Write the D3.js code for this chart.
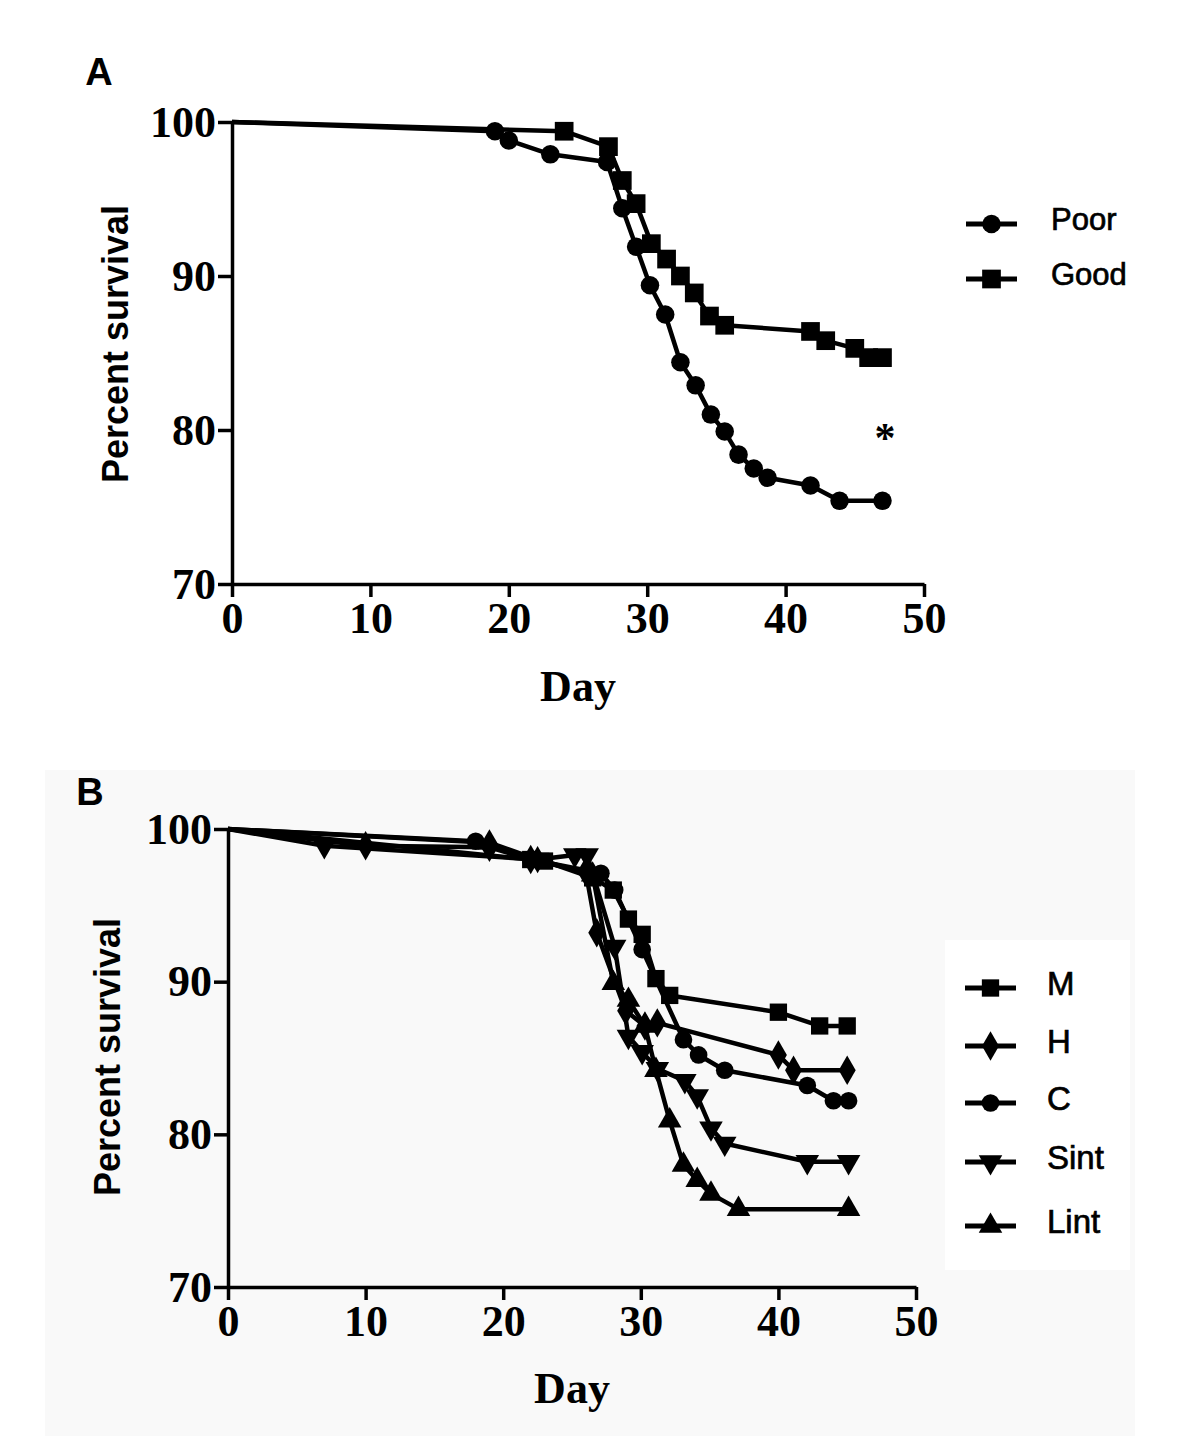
<!DOCTYPE html>
<html>
<head>
<meta charset="utf-8">
<script src="https://cdn.jsdelivr.net/npm/d3@7"></script>
<style>
  body { margin: 0; background: #fff; }
</style>
</head>
<body>
<div id="chart"></div>
<script>

// ---- data ----
var dayTicks = [0, 10, 20, 30, 40, 50];
var survTicks = [70, 80, 90, 100];

// panel A
var poorDays = [0, 19, 20, 23, 27.1, 28.2, 29.2, 30.2, 31.3, 32.4, 33.5, 34.6, 35.6, 36.6, 37.7, 38.7, 41.8, 43.9, 47];
var poorSurv = [100, 99.4, 98.8, 97.9, 97.4, 94.4, 91.9, 89.4, 87.5, 84.4, 82.9, 81.0, 79.9, 78.4, 77.5, 76.9, 76.4, 75.4, 75.4];
var goodDays = [0, 24, 27.2, 28.2, 29.2, 30.3, 31.4, 32.4, 33.4, 34.5, 35.6, 41.8, 42.9, 45, 46, 47];
var goodSurv = [100, 99.4, 98.4, 96.2, 94.7, 92.1, 91.1, 90.0, 88.9, 87.4, 86.8, 86.4, 85.8, 85.3, 84.7, 84.7];

// panel B
var mDays = [0, 22, 23, 26.5, 28, 29.1, 30.1, 31.1, 32.1, 40, 43, 45];
var mSurv = [100, 98.0, 97.9, 96.8, 96.0, 94.1, 93.1, 90.2, 89.1, 88.0, 87.1, 87.1];
var hDays = [0, 10, 19, 22, 26, 26.8, 28.9, 30.3, 31.2, 40, 41.1, 45];
var hSurv = [100, 98.9, 98.8, 98.0, 97.2, 93.2, 88.1, 87.1, 87.3, 85.2, 84.2, 84.2];
var cDays = [0, 18, 22, 27.1, 28.1, 30.1, 33.1, 34.2, 36.1, 42.1, 44, 45.1];
var cSurv = [100, 99.2, 98.0, 97.1, 96.0, 92.1, 86.2, 85.2, 84.2, 83.2, 82.2, 82.2];
var sDays = [0, 7, 22.5, 25.2, 26.1, 28.1, 29.1, 30.1, 31.2, 33.2, 34.1, 35.1, 36.1, 42.1, 45.1];
var sSurv = [100, 98.9, 98.0, 98.3, 98.3, 92.3, 86.4, 85.4, 84.3, 83.5, 82.5, 80.4, 79.4, 78.2, 78.2];
var lDays = [0, 19, 22.5, 26.5, 28, 29.1, 30.3, 31.1, 32.1, 33.1, 34.1, 35.1, 37.1, 45.1];
var lSurv = [100, 99.1, 98.0, 97.0, 89.9, 88.8, 87.1, 84.2, 80.9, 78.0, 77.0, 76.1, 75.1, 75.1];

var groupsA = ["Poor", "Good"];
var groupsB = ["M", "H", "C", "Sint", "Lint"];

// ---- setup ----
const W = 1200, H = 1436;
const serif = "'Liberation Serif', 'Times New Roman', serif";
const sans = "'Liberation Sans', Arial, sans-serif";

const svg = d3.select("#chart")
  .append("svg")
  .attr("width", W)
  .attr("height", H);

// panel B has a very light grey backdrop in the original
svg.append("rect")
  .attr("x", 45).attr("y", 770)
  .attr("width", 1090).attr("height", 666)
  .attr("fill", "#f9f9f9");
svg.append("rect")
  .attr("x", 945).attr("y", 940)
  .attr("width", 185).attr("height", 330)
  .attr("fill", "#ffffff");

const symbols = {
  circle: d3.symbol().type(d3.symbolCircle),
  square: d3.symbol().type(d3.symbolSquare),
  diamond: d3.symbol().type(d3.symbolDiamond),
  triUp: d3.symbol().type(d3.symbolTriangle),
  triDown: d3.symbol().type(d3.symbolTriangle)
};

function markerPath(shape, size) {
  return symbols[shape].size(size)();
}

function drawPanel(cfg) {
  const x = d3.scaleLinear().domain([0, 50]).range(cfg.xRange);
  const y = d3.scaleLinear().domain([70, 100]).range(cfg.yRange);
  const g = svg.append("g");

  // axes
  const xAxis = d3.axisBottom(x).tickValues(dayTicks).tickSize(13).tickSizeOuter(0).tickPadding(5);
  const yAxis = d3.axisLeft(y).tickValues(survTicks).tickSize(14).tickSizeOuter(0).tickPadding(2);

  const xg = g.append("g")
    .attr("transform", `translate(0,${cfg.yRange[0]})`)
    .call(xAxis);
  const yg = g.append("g")
    .attr("transform", `translate(${cfg.xRange[0]},0)`)
    .call(yAxis);

  [xg, yg].forEach(a => {
    a.select(".domain").attr("stroke", "#000").attr("stroke-width", 3.5);
    a.selectAll(".tick line").attr("stroke", "#000").attr("stroke-width", 3.5);
    a.selectAll("text")
      .attr("fill", "#000")
      .attr("font-family", serif)
      .attr("font-weight", "bold")
      .style("font-size", "44px");
  });

  // series
  const line = d3.line().x(d => x(d[0])).y(d => y(d[1]));
  cfg.series.forEach(s => {
    const pts = d3.zip(s.days, s.surv);
    g.append("path")
      .datum(pts)
      .attr("fill", "none")
      .attr("stroke", "#000")
      .attr("stroke-width", 4.5)
      .attr("stroke-linejoin", "round")
      .attr("d", line);

    g.selectAll(null)
      .data(pts.slice(1))   // no marker at day 0
      .enter()
      .append("path")
      .attr("d", markerPath(s.shape, s.size))
      .attr("fill", "#000")
      .attr("transform", d => `translate(${x(d[0])},${y(d[1])})` + (s.shape == "triDown" ? " rotate(180)" : ""));
  });

  // axis titles
  g.append("text")
    .attr("x", (cfg.xRange[0] + cfg.xRange[1]) / 2)
    .attr("y", cfg.dayY)
    .attr("text-anchor", "middle")
    .attr("dominant-baseline", "central")
    .attr("font-family", serif)
    .attr("font-weight", "bold")
    .style("font-size", "44px")
    .text("Day");

  g.append("text")
    .attr("transform", `translate(${cfg.ylabX},${cfg.ylabY}) rotate(-90)`)
    .attr("text-anchor", "middle")
    .attr("dominant-baseline", "central")
    .attr("font-family", sans)
    .attr("font-weight", "bold")
    .style("font-size", "36px")
    .text("Percent survival");

  g.append("text")
    .attr("x", cfg.letter[0]).attr("y", cfg.letter[1])
    .attr("text-anchor", "middle")
    .attr("dominant-baseline", "central")
    .attr("font-family", sans)
    .attr("font-weight", "bold")
    .style("font-size", "38px")
    .text(cfg.letterText);

  // legend
  const leg = g.append("g");
  cfg.series.forEach((s, i) => {
    const ly = cfg.legendY[i];
    leg.append("line")
      .attr("x1", cfg.legendX).attr("x2", cfg.legendX + 51)
      .attr("y1", ly).attr("y2", ly)
      .attr("stroke", "#000").attr("stroke-width", 5);
    leg.append("path")
      .attr("d", markerPath(s.shape, s.size))
      .attr("fill", "#000")
      .attr("transform", `translate(${cfg.legendX + 25.5},${ly})` + (s.shape == "triDown" ? " rotate(180)" : ""));
    leg.append("text")
      .attr("x", cfg.legendTextX)
      .attr("y", ly - 5)
      .attr("dominant-baseline", "central")
      .attr("font-family", sans)
      .style("font-size", cfg.legendFont)
      .attr("fill", "#000")
      .attr("stroke", "#000")
      .attr("stroke-width", 0.7)
      .text(s.name);
  });

  return { x, y, g };
}

// ---- panel A ----
const panelA = drawPanel({
  xRange: [232, 924],
  yRange: [584, 122],
  dayY: 686,
  ylabX: 115,
  ylabY: 344,
  letter: [99, 72],
  letterText: "A",
  legendX: 966,
  legendTextX: 1051,
  legendFont: "31px",
  legendY: [224, 279],
  series: [
    { name: groupsA[0], days: poorDays, surv: poorSurv, shape: "circle", size: 270 },
    { name: groupsA[1], days: goodDays, surv: goodSurv, shape: "square", size: 350 }
  ]
});

// significance mark
panelA.g.append("text")
  .attr("x", 885).attr("y", 452)
  .attr("text-anchor", "middle")
  .attr("font-family", serif)
  .attr("font-weight", "bold")
  .style("font-size", "42px")
  .text("*");

// ---- panel B ----
drawPanel({
  xRange: [228, 916],
  yRange: [1287, 829],
  dayY: 1388,
  ylabX: 107,
  ylabY: 1057,
  letter: [90, 792],
  letterText: "B",
  legendX: 965,
  legendTextX: 1047,
  legendFont: "33px",
  legendY: [988, 1046, 1103, 1162, 1226],
  series: [
    { name: groupsB[0], days: mDays, surv: mSurv, shape: "square", size: 300 },
    { name: groupsB[1], days: hDays, surv: hSurv, shape: "diamond", size: 250 },
    { name: groupsB[2], days: cDays, surv: cSurv, shape: "circle", size: 245 },
    { name: groupsB[3], days: sDays, surv: sSurv, shape: "triDown", size: 240 },
    { name: groupsB[4], days: lDays, surv: lSurv, shape: "triUp", size: 240 }
  ]
});

</script>
</body>
</html>
